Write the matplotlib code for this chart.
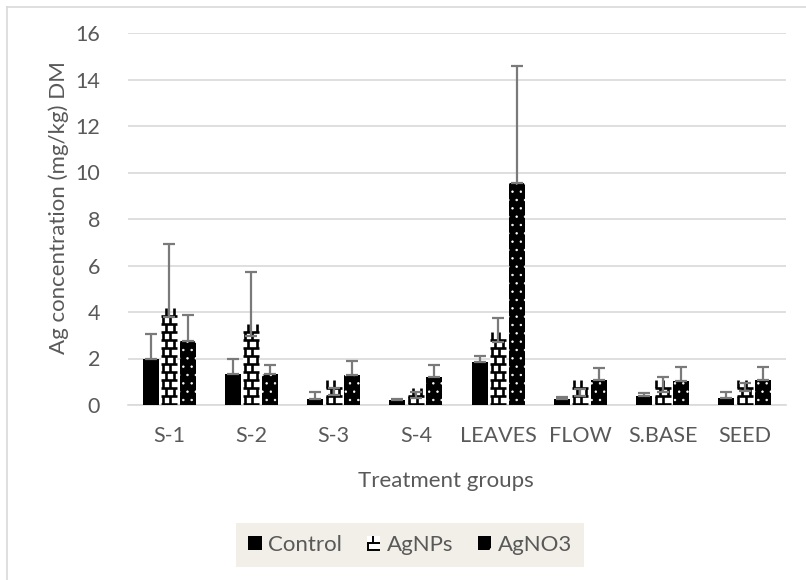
import matplotlib
matplotlib.use("Agg")
import matplotlib.pyplot as plt
import numpy as np
from matplotlib.patches import Patch, Rectangle
from matplotlib.collections import LineCollection
from matplotlib.lines import Line2D
from matplotlib.legend_handler import HandlerBase

# Silver content per plant part (mean and upper SD), mg/kg dry matter
categories = ["S-1", "S-2", "S-3", "S-4", "LEAVES", "FLOW", "S.BASE", "SEED"]
series_names = ["Control", "AgNPs", "AgNO3"]
control = [2.0, 1.32, 0.25, 0.22, 1.84, 0.25, 0.38, 0.30]
control_sd = [1.05, 0.68, 0.30, 0.05, 0.26, 0.08, 0.15, 0.25]
agnps = [3.78, 2.98, 0.45, 0.30, 2.69, 0.40, 0.55, 0.60]
agnps_sd = [3.15, 2.75, 0.30, 0.27, 1.04, 0.28, 0.65, 0.35]
agno3 = [2.76, 1.32, 1.28, 1.20, 9.54, 1.06, 1.02, 1.08]
agno3_sd = [1.12, 0.40, 0.60, 0.52, 5.04, 0.55, 0.63, 0.54]
yticks = [0, 2, 4, 6, 8, 10, 12, 14, 16]

plt.rcParams["font.family"] = ["Lato", "DejaVu Sans"]
plt.rcParams["hatch.linewidth"] = 0.5

TXT = "#595959"
GRID = "#d9d9d9"
ERR = "#7a7a7a"
FS = 15.5

W, H = 806, 580
fig = plt.figure(figsize=(W / 100, H / 100), dpi=100)
ax = fig.add_axes([128 / W, 1 - 405 / H, 658 / W, 372 / H])

x = np.arange(len(categories))
bw = 0.195
step = 0.225

b_ctrl = ax.bar(x - step, control, bw, color="black", linewidth=0, zorder=3)
b_nps = ax.bar(x, agnps, bw, color="white", linewidth=0, zorder=3)
b_no3 = ax.bar(x + step, agno3, bw, color="black", edgecolor="white",
               linewidth=0, hatch="..", zorder=3)

ax.set_xlim(-0.5, len(categories) - 0.5)
ax.set_ylim(0, 16)

# brick pattern inside the AgNPs bars, clipped to each bar
dy = 0.345
for rect in b_nps:
    x0, w, h = rect.get_x(), rect.get_width(), rect.get_height()
    segs = []
    n = int(np.ceil(h / dy)) + 1
    for k in range(n):
        yk = k * dy + 0.04
        segs.append([(x0, yk), (x0 + w, yk)])
        joints = (0.1, 0.55) if k % 2 == 0 else (0.32, 0.82)
        for j in joints:
            segs.append([(x0 + j * w, yk), (x0 + j * w, yk + dy)])
    lc = LineCollection(segs, colors="black", linewidths=1.9, zorder=3.5)
    lc.set_clip_path(rect)
    ax.add_collection(lc)

for xs, vals, sd in [(x - step, control, control_sd), (x, agnps, agnps_sd),
                     (x + step, agno3, agno3_sd)]:
    ax.errorbar(xs, vals, yerr=[np.zeros(len(sd)), sd], fmt="none",
                ecolor=ERR, elinewidth=1.6, capsize=4.5, capthick=1.6, zorder=4)

ax.set_yticks(yticks)
ax.set_xticks(x)
ax.set_xticklabels(categories)
ax.yaxis.grid(True, color=GRID, linewidth=1.2, zorder=0)
ax.set_axisbelow(True)
for s in ["top", "right", "left"]:
    ax.spines[s].set_visible(False)
ax.spines["bottom"].set_color(GRID)
ax.spines["bottom"].set_linewidth(1.2)
ax.tick_params(axis="both", length=0, labelsize=FS, labelcolor=TXT)
ax.tick_params(axis="y", pad=20)
ax.tick_params(axis="x", pad=15)

ax.set_ylabel("Ag concentration (mg/kg) DM", fontsize=FS + 0.5, color=TXT)
ax.yaxis.set_label_coords(-0.106, 0.532)
ax.yaxis.label.set_va("center")
ax.set_xlabel("Treatment groups", fontsize=FS + 0.5, color=TXT)
ax.xaxis.set_label_coords((446 - 128) / 658, (405 - 481) / 372)
ax.xaxis.label.set_va("center")


class BrickHandler(HandlerBase):
    def create_artists(self, legend, orig_handle, xdescent, ydescent,
                       width, height, fontsize, trans):
        x0, y0 = -xdescent, -ydescent
        bg = Rectangle((x0, y0), width, height, facecolor="white",
                       edgecolor="none", transform=trans)
        m = y0 + 0.5 * height
        b = y0 + 0.05 * height
        segs = [[(x0, m), (x0 + width, m)],
                [(x0, b), (x0 + width, b)],
                [(x0 + 0.5 * width, m), (x0 + 0.5 * width, y0 + height)],
                [(x0 + 0.08 * width, b), (x0 + 0.08 * width, m)]]
        lc = LineCollection(segs, colors="black", linewidths=1.4,
                            transform=trans)
        return [bg, lc]


h_ctrl = Patch(facecolor="black", edgecolor="none")
h_nps = Patch(facecolor="white", edgecolor="none")
h_no3 = Patch(facecolor="black", edgecolor="white", linewidth=0, hatch=".")
leg = fig.legend([h_ctrl, h_nps, h_no3], series_names, loc="center",
                 bbox_to_anchor=(410 / W, 1 - 545 / H), ncol=3,
                 fontsize=FS + 0.5, frameon=True, fancybox=False,
                 handlelength=0.6, handleheight=0.6, handletextpad=0.3,
                 columnspacing=1.1, borderpad=0.55,
                 handler_map={h_nps: BrickHandler()})
leg.get_frame().set_facecolor("#eeece1")
leg.get_frame().set_edgecolor("none")
for t in leg.get_texts():
    t.set_color(TXT)

# chart area border
fig.add_artist(Line2D([7 / W, 7 / W], [0, 1 - 7 / H], color=GRID,
                      linewidth=1.2, transform=fig.transFigure))
fig.add_artist(Line2D([7 / W, 1], [1 - 7 / H, 1 - 7 / H], color=GRID,
                      linewidth=1.2, transform=fig.transFigure))

fig.savefig("out.png", dpi=100)
